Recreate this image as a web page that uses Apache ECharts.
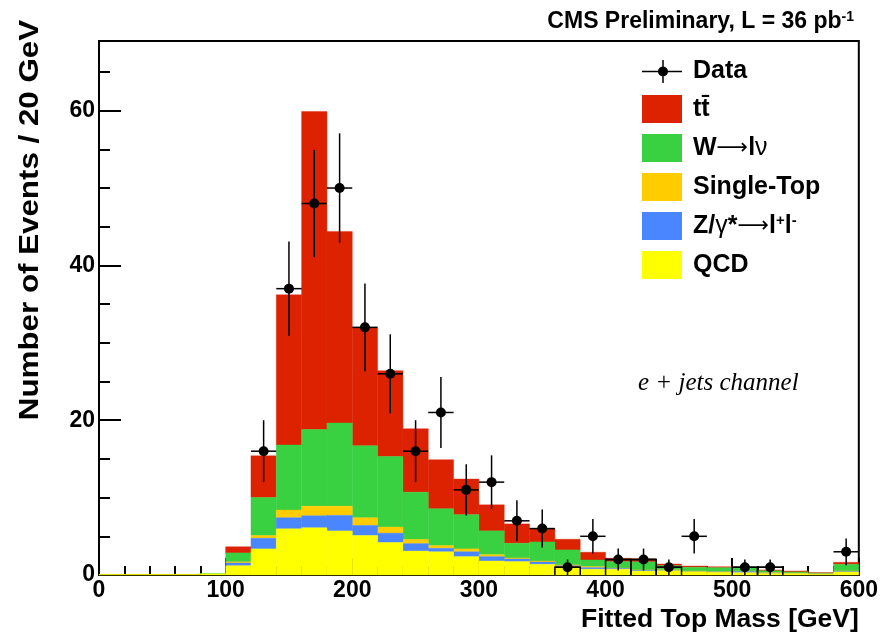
<!DOCTYPE html>
<html>
<head>
<meta charset="utf-8">
<script src="https://cdn.jsdelivr.net/npm/echarts@6/dist/echarts.min.js"></script>
<style>
html,body{margin:0;padding:0;background:#fff;}
#chart{width:881px;height:640px;}
</style>
</head>
<body>
<div id="chart"></div>
<script>
// ---- data (bins of 20 GeV) ----
const binLow = [0,20,40,60,80,100,120,140,160,180,200,220,240,260,280,300,320,340,360,380,400,420,440,460,480,500,520,540,560,580];
const binWidth = 20;
const dataCounts = [0,0,0,0,0,0,16,37,48,50,32,26,16,21,11,12,7,6,1,5,2,2,1,5,0,1,1,0,0,3];
const qcd       = [0.1,0.1,0.1,0.1,0.15,1.2,3.37,5.96,6.1,5.7,5.1,4.2,3.1,3.0,2.37,1.81,1.73,1.38,1.08,0.74,0.74,0.5,0.56,0.43,0.35,0.3,0.2,0.2,0.1,0.39];
const zgamma    = [0,0,0,0,0,0.35,1.38,1.44,1.55,2.0,1.3,1.2,0.95,0.45,0.63,0.56,0.34,0.3,0.12,0.21,0.11,0.1,0.06,0.05,0.05,0.15,0.05,0.02,0.02,0.06];
const singleTop = [0,0,0,0,0,0.15,0.35,1.0,1.25,1.2,1.0,0.8,0.55,0.35,0.37,0.26,0.13,0.13,0.1,0.13,0.05,0.05,0.04,0.02,0.02,0.03,0.05,0.03,0.03,0.07];
const wlnu      = [0,0,0,0,0.05,1.15,4.9,8.4,9.9,10.75,9.3,9.1,6.1,4.75,4.43,3.07,1.9,2.46,1.94,0.86,0.83,1.05,0.54,0.5,0.53,0.42,0.25,0.15,0.1,0.86];
const ttbar     = [0,0,0,0,0,0.8,5.4,19.4,41.1,24.75,15.25,11.1,8.2,6.35,4.6,3.37,2.5,1.73,1.38,1.0,0.43,0.4,0.22,0.16,0.12,0.1,0.1,0.12,0.05,0.26];
const xTicks = [0,100,200,300,400,500,600];
const yTicks = [0,20,40,60];
const yMinorTicks = [5,10,15,25,30,35,45,50,55,65];

// ---- build stacked histogram series ----
const stackDefs = [
  {name:'QCD', values:qcd, color:'#ffff00'},
  {name:'Z/γ*→l+l-', values:zgamma, color:'#4a86ff'},
  {name:'Single-Top', values:singleTop, color:'#ffcc00'},
  {name:'W→lν', values:wlnu, color:'#39d142'},
  {name:'tt̄', values:ttbar, color:'#dc2200'}
];
const cum = binLow.map(() => 0);
const stackSeries = stackDefs.map(def => {
  const d = binLow.map((lo, i) => {
    const b = cum[i];
    const t = b + def.values[i];
    cum[i] = t;
    return [lo, lo + binWidth, b, t];
  });
  return {
    name: def.name,
    type: 'custom',
    xAxisIndex: 0, yAxisIndex: 0,
    encode: {x:[0,1], y:[2,3]},
    data: d,
    z: 2,
    renderItem: function(params, api) {
      const lo = api.value(0), hi = api.value(1), b = api.value(2), t = api.value(3);
      if (t - b <= 0) return null;
      const p0 = api.coord([lo, b]);
      const p1 = api.coord([hi, t]);
      return {
        type: 'rect',
        shape: {x: p0[0], y: p1[1], width: p1[0]-p0[0], height: p0[1]-p1[1]},
        style: {fill: def.color, stroke: def.color, lineWidth: 0.4}
      };
    },
    itemStyle: {color: def.color}
  };
});

const dataSeries = {
  name: 'Data',
  type: 'custom',
  xAxisIndex: 0, yAxisIndex: 0,
  encode: {x:[0,2,3], y:1},
  data: binLow.map((lo, i) => [lo + binWidth/2, dataCounts[i], lo, lo + binWidth]),
  z: 5,
  renderItem: function(params, api) {
    const xc = api.value(0), v = api.value(1), lo = api.value(2), hi = api.value(3);
    if (v <= 0) return null;
    const e = Math.sqrt(v);
    const c = api.coord([xc, v]);
    const l = api.coord([lo, v]);
    const r = api.coord([hi, v]);
    const top = api.coord([xc, v + e]);
    const bot = api.coord([xc, Math.max(0, v - e)]);
    const children = [
      {type:'line', shape:{x1:l[0], y1:l[1], x2:r[0], y2:r[1]}, style:{stroke:'#000', lineWidth:1.5}},
      {type:'line', shape:{x1:top[0], y1:top[1], x2:bot[0], y2:bot[1]}, style:{stroke:'#000', lineWidth:1.5}},
      {type:'circle', shape:{cx:c[0], cy:c[1], r:5}, style:{fill:'#000'}}
    ];
    if (v <= 2) {
      const z0 = api.coord([lo, 0]);
      const z1 = api.coord([hi, 0]);
      children.unshift({type:'polyline', shape:{points:[[z0[0], z0[1]], [l[0], l[1]], [r[0], r[1]], [z1[0], z1[1]]]}, style:{stroke:'#000', lineWidth:1.5, fill:null}});
    }
    return {type:'group', children: children};
  },
  itemStyle: {color:'#000'}
};

const FONT = 'Liberation Sans';
const chart = echarts.init(document.getElementById('chart'), null, {renderer:'canvas'});
const option = {
  backgroundColor: '#ffffff',
  animation: false,
  title: {
    text: '{a|CMS Preliminary, L = 36 pb}{s|-1}',
    right: 22, top: 5,
    textStyle: {
      rich: {
        a: {fontFamily: FONT, fontWeight:'bold', fontSize: 23, color:'#000'},
        s: {fontFamily: FONT, fontWeight:'bold', fontSize: 14, color:'#000', verticalAlign:'top'}
      }
    }
  },
  legend: {
    orient: 'vertical',
    left: 637, top: 54,
    itemWidth: 40, itemHeight: 28, itemGap: 11,
    selectedMode: false,
    textStyle: {fontFamily: FONT, fontWeight:'bold', fontSize: 25, color:'#000', padding:[0,0,0,6],
      rich: {
        n: {fontFamily: FONT, fontWeight:'bold', fontSize: 25, color:'#000'},
        g: {fontFamily: FONT, fontWeight:'normal', fontSize: 25, color:'#000'},
        ar: {fontFamily: 'DejaVu Sans', fontWeight:'normal', fontSize: 22, color:'#000'},
        sup: {fontFamily: FONT, fontWeight:'bold', fontSize: 15, color:'#000', verticalAlign:'top'}
      }
    },
    formatter: function(name) {
      if (name === 'W→lν') return '{n|W}{ar|⟶}{n|l}{g|ν}';
      if (name === 'Z/γ*→l+l-') return '{n|Z/}{g|γ}{n|*}{ar|⟶}{n|l}{sup|+}{n|l}{sup|-}';
      return '{n|' + name + '}';
    },
    data: [
      {name:'Data', icon:'path://M0,10.75h40v1.5h-40z M20.25,0h1.5v23h-1.5z M26,11.5A5,5 0 1 1 16,11.5A5,5 0 1 1 26,11.5z'},
      {name:'tt̄', icon:'rect'},
      {name:'W→lν', icon:'rect'},
      {name:'Single-Top', icon:'rect'},
      {name:'Z/γ*→l+l-', icon:'rect'},
      {name:'QCD', icon:'rect'}
    ]
  },
  grid: {left: 99, right: 22, top: 41, bottom: 65, show: true, borderColor:'#000', borderWidth: 2, backgroundColor:'#fff'},
  xAxis: {
    type: 'value', min: 0, max: 600, interval: 100,
    axisLine: {show:true, onZero:false, lineStyle:{color:'#000', width:2}},
    axisTick: {show:true, inside:true, length:17, lineStyle:{color:'#000', width:2}},
    minorTick: {show:true, splitNumber:5, length:9, lineStyle:{color:'#000', width:2}},
    splitLine: {show:false},
    axisLabel: {fontFamily: FONT, fontWeight:'bold', fontSize:23, color:'#000', margin:4,
      customValues: xTicks},
    name: 'Fitted Top Mass [GeV]',
    nameLocation: 'end',
    nameGap: 0,
    nameTextStyle: {fontFamily: FONT, fontWeight:'bold', fontSize:26.5, color:'#000', align:'right', verticalAlign:'top', padding:[31,0,0,0]}
  },
  yAxis: [{
    type: 'value', min: 0, max: 69, interval: 20,
    axisLine: {show:true, onZero:false, lineStyle:{color:'#000', width:2}},
    axisTick: {show:true, inside:true, length:22, lineStyle:{color:'#000', width:2}, customValues: yTicks},
    splitLine: {show:false},
    axisLabel: {fontFamily: FONT, fontWeight:'bold', fontSize:23, color:'#000', margin:4, customValues: yTicks}
  }, {
    type: 'value', min: 0, max: 69, position:'left',
    axisLine: {show:false},
    axisTick: {show:true, inside:true, length:11, lineStyle:{color:'#000', width:2}, customValues: yMinorTicks},
    axisLabel: {show:false},
    splitLine: {show:false}
  }],
  graphic: [
    {type:'text', x: 31, y: 220, rotation: Math.PI/2, scaleX: 1.16, scaleY: 1,
      style:{text:'Number of Events / 20 GeV', font:'bold 27px "Liberation Sans"', fill:'#000', textAlign:'center', textVerticalAlign:'middle'}},
    {type:'text', x: 638, y: 383,
      style:{text:'e + jets channel', font:'italic 25px "Liberation Serif"', fill:'#000', textAlign:'left', textVerticalAlign:'middle'}}
  ],
  series: stackSeries.slice().reverse().concat([dataSeries])
};
chart.setOption(option);
</script>
</body>
</html>
